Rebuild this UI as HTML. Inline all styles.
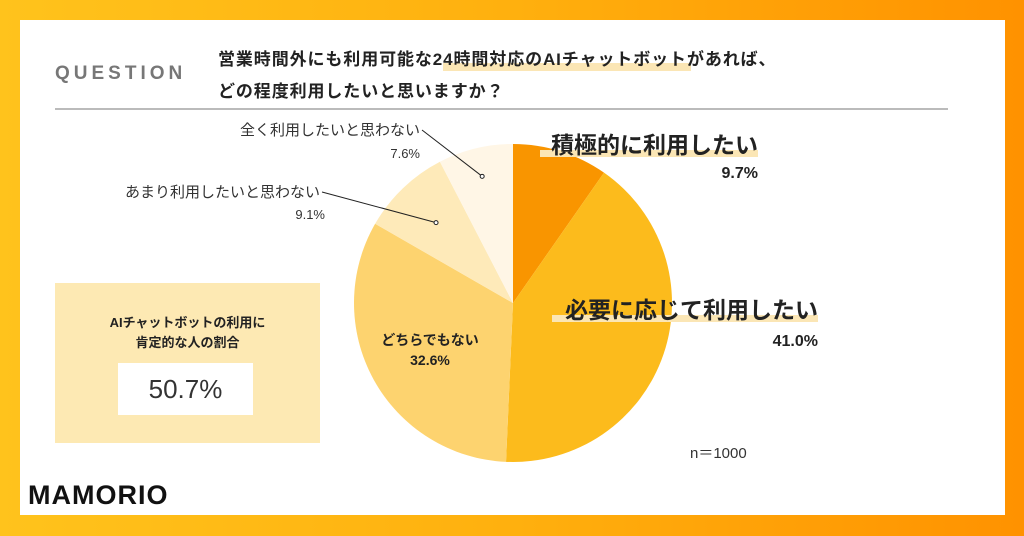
<!DOCTYPE html>
<html><head><meta charset="utf-8"><style>
body{margin:0;width:1024px;height:536px;overflow:hidden;background:linear-gradient(90deg,#ffc31c,#ffb00e 50%,#ff9200);font-family:"Liberation Sans","Noto Sans CJK JP",sans-serif;}
.card{position:absolute;left:20px;top:20px;width:985px;height:495px;background:#fff;}
.t{position:absolute;white-space:nowrap;color:#222;}
</style></head><body>
<div class="card"></div>
<div class="t" style="left:55px;top:63px;font-size:19px;letter-spacing:4px;color:#777;font-weight:bold">QUESTION</div>
<div style="position:absolute;left:443px;top:63px;width:248px;height:8px;background:#fbe6b5"></div>
<div class="t" style="left:218px;top:45px;font-size:17px;letter-spacing:0.9px;font-weight:bold">営業時間外にも利用可能な24時間対応のAIチャットボットがあれば、</div>
<div class="t" style="left:218px;top:77px;font-size:17px;letter-spacing:0.9px;font-weight:bold">どの程度利用したいと思いますか？</div>
<div style="position:absolute;left:55px;top:108px;width:893px;height:2px;background:#bbb"></div>
<div style="position:absolute;left:55px;top:283px;width:265px;height:160px;background:#fde9b3"></div>
<div class="t" style="left:55px;width:265px;text-align:center;top:313px;font-size:13px;font-weight:bold;line-height:20px">AIチャットボットの利用に<br>肯定的な人の割合</div>
<div class="t" style="left:118px;top:363px;width:135px;height:52px;background:#fff;text-align:center;line-height:52px;font-size:26px;color:#333">50.7%</div>
<div class="t" style="left:28px;top:480px;font-size:27px;letter-spacing:1px;font-weight:bold;color:#111">MAMORIO</div>
<div class="t" style="left:690px;top:442px;font-size:15px;color:#333">n＝1000</div>
<svg id="pie" width="1024" height="536" style="position:absolute;left:0;top:0"></svg>
<script>
const categories=["積極的に利用したい","必要に応じて利用したい","どちらでもない","あまり利用したいと思わない","全く利用したいと思わない"];
const values=[9.7,41.0,32.6,9.1,7.6];
const colors=["#f99500","#fcbb1c","#fdd36f","#feeab9","#fff6e6"];
const svg=document.getElementById('pie');const NS="http://www.w3.org/2000/svg";
const cx=513,cy=303,r=159;const total=values.reduce((a,b)=>a+b,0);
function pt(a,rr){return [cx+rr*Math.sin(a),cy-rr*Math.cos(a)];}
let a0=0;const mids=[];
values.forEach((v,i)=>{const a1=a0+v/total*2*Math.PI;const p0=pt(a0,r),p1=pt(a1,r);
const p=document.createElementNS(NS,'path');
p.setAttribute('d',`M${cx},${cy}L${p0[0]},${p0[1]}A${r},${r} 0 ${a1-a0>Math.PI?1:0} 1 ${p1[0]},${p1[1]}Z`);
p.setAttribute('fill',colors[i]);


svg.appendChild(p);mids.push((a0+a1)/2);a0=a1;});
function txt(x,y,s,size,w,anchor,name,col){const t=document.createElementNS(NS,'text');t.setAttribute('x',x);t.setAttribute('y',y);t.setAttribute('font-size',size);t.setAttribute('font-weight',w);t.setAttribute('text-anchor',anchor);t.setAttribute('fill',col||'#222');t.textContent=s;


svg.appendChild(t);return t;}
function hl(x,y,w,name){const rc=document.createElementNS(NS,'rect');rc.setAttribute('x',x);rc.setAttribute('y',y);rc.setAttribute('width',w);rc.setAttribute('height',7);rc.setAttribute('fill','#fbe6b5');


svg.appendChild(rc);}
hl(540,150,218,'highlight-0');
txt(758,153,categories[0],23,'bold','end','label-0');
txt(758,178,values[0].toFixed(1)+'%',16,'bold','end','value-0');
hl(552,315,266,'highlight-1');
txt(818,318,categories[1],23,'bold','end','label-1');
txt(818,346,values[1].toFixed(1)+'%',16,'bold','end','value-1');
txt(430,345,categories[2],14,'bold','middle','label-2');
txt(430,365,values[2].toFixed(1)+'%',14,'bold','middle','value-2');
txt(320,197,categories[3],15,'normal','end','label-3','#333');
txt(325,219,values[3].toFixed(1)+'%',13,'normal','end','value-3','#333');
txt(420,135,categories[4],15,'normal','end','label-4','#333');
txt(420,158,values[4].toFixed(1)+'%',13,'normal','end','value-4','#333');
function leader(x1,y1,x2,y2,name){const l=document.createElementNS(NS,'path');l.setAttribute('d',`M${x1},${y1}L${x2},${y2}`);l.setAttribute('stroke','#222');l.setAttribute('fill','none');


svg.appendChild(l);const c=document.createElementNS(NS,'circle');c.setAttribute('cx',x2);c.setAttribute('cy',y2);c.setAttribute('r',2);c.setAttribute('fill','#fff');c.setAttribute('stroke','#222');svg.appendChild(c);}
const q3=pt(mids[3],r*0.7),q4=pt(mids[4],r*0.82);
leader(322,192,q3[0],q3[1],'leader-3');
leader(422,130,q4[0],q4[1],'leader-4');
</script>
</body></html>
